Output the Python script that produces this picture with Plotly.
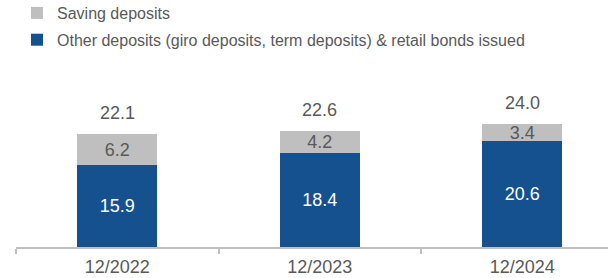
import plotly.graph_objects as go

categories = ["12/2022", "12/2023", "12/2024"]
other_deposits = [15.9, 18.4, 20.6]
saving_deposits = [6.2, 4.2, 3.4]
totals = [22.1, 22.6, 24.0]
total_labels = ["22.1", "22.6", "24.0"]

BLUE = "#15508F"
GRAY = "#BFBFBF"
TEXT = "#595959"
FONT = "Liberation Sans, Arial, sans-serif"

fig = go.Figure()
fig.add_trace(go.Bar(
    x=categories, y=other_deposits, name="Other deposits (giro deposits, term deposits) & retail bonds issued",
    marker=dict(color=BLUE, line=dict(width=0)),
    text=[f"{v:.1f}" for v in other_deposits], textposition="inside",
    insidetextanchor="middle", constraintext="none",
    insidetextfont=dict(color="white", size=18, family=FONT),
    legendgroup="a", legendrank=2, hoverinfo="skip",
))
fig.add_trace(go.Bar(
    x=categories, y=saving_deposits, name="Saving deposits",
    marker=dict(color=GRAY, line=dict(width=0)),
    text=[f"{v:.1f}" for v in saving_deposits], textposition="inside",
    insidetextanchor="middle", constraintext="none",
    insidetextfont=dict(color=TEXT, size=18, family=FONT),
    legendgroup="b", legendrank=1, hoverinfo="skip",
))

for c, t, lab in zip(categories, totals, total_labels):
    fig.add_annotation(x=c, y=t, text=lab, showarrow=False, yanchor="middle",
                       yshift=21, font=dict(size=18, color=TEXT, family=FONT))

fig.update_layout(
    width=608, height=278,
    margin=dict(l=16, r=0, t=80, b=31, autoexpand=False),
    barmode="stack", bargap=0.605,
    plot_bgcolor="white", paper_bgcolor="white",
    font=dict(family=FONT, color=TEXT),
    showlegend=True,
    legend=dict(
        xref="paper", yref="paper", x=1/592, y=1 + 84/167, xanchor="left", yanchor="top",
        traceorder="grouped", tracegroupgap=3,
        font=dict(size=16, color=TEXT, family=FONT),
        bgcolor="rgba(0,0,0,0)", borderwidth=0,
    ),
    xaxis=dict(
        type="category", range=[-0.5, 2.423], showgrid=False, zeroline=False,
        showline=True, linecolor=GRAY, linewidth=1.5, automargin=False,
        ticks="outside", tickson="boundaries", ticklen=5, tickcolor=GRAY, tickwidth=1.5,
        tickfont=dict(size=18, color=TEXT, family=FONT), tickangle=0,
        ticklabelstandoff=3,
    ),
    yaxis=dict(range=[0, 32.55], visible=False, showgrid=False, zeroline=False),
)

fig.write_html("out.html", post_script="document.body.style.margin='0';",
               config={"displayModeBar": False})
